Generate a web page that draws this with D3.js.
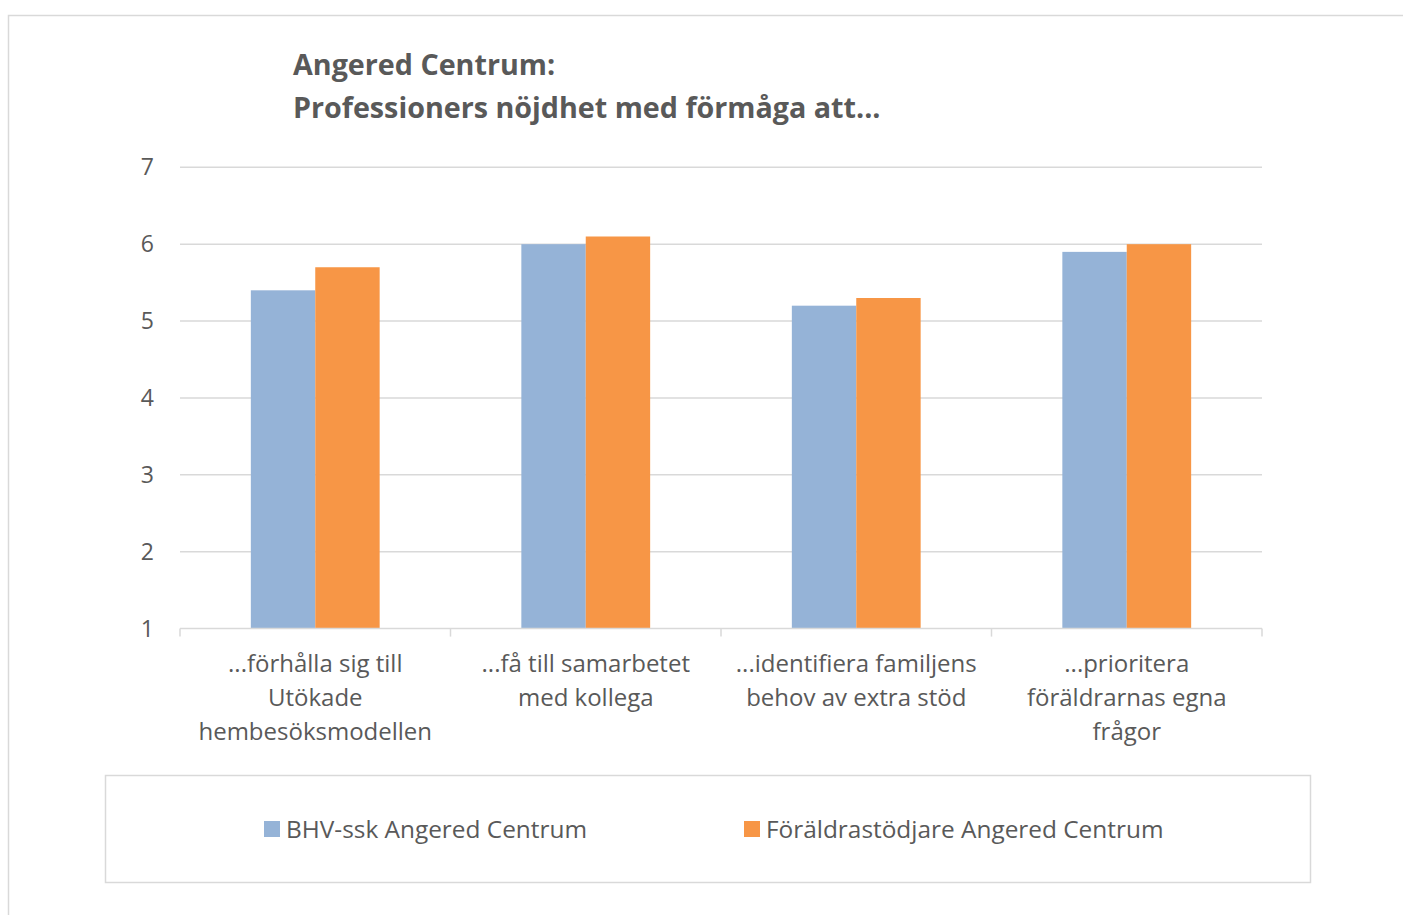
<!DOCTYPE html>
<html>
<head>
<meta charset="utf-8">
<script src="https://cdn.jsdelivr.net/npm/d3@7"></script>
<style>
  html, body { margin: 0; padding: 0; background: #ffffff; }
  svg { display: block; }
  text { font-family: "Open Sans", "DejaVu Sans", sans-serif; fill: #595959; }
</style>
</head>
<body>
<svg id="chart" width="1403" height="915"></svg>
<script>
// ---- data ----
const titleLines = ["Angered Centrum:", "Professioners nöjdhet med förmåga att..."];
const categories = [
  "...förhålla sig till Utökade hembesöksmodellen",
  "...få till samarbetet med kollega",
  "...identifiera familjens behov av extra stöd",
  "...prioritera föräldrarnas egna frågor"
];
const categoryLabelLines = [
  ["...förhålla sig till", "Utökade", "hembesöksmodellen"],
  ["...få till samarbetet", "med kollega"],
  ["...identifiera familjens", "behov av extra stöd"],
  ["...prioritera", "föräldrarnas egna", "frågor"]
];
const seriesNames = ["BHV-ssk Angered Centrum", "Föräldrastödjare Angered Centrum"];
const bhvValues = [5.4, 6.0, 5.2, 5.9];
const foraldrarValues = [5.7, 6.1, 5.3, 6.0];
const yTicks = [1, 2, 3, 4, 5, 6, 7];
const seriesColors = ["#95b3d7", "#f79646"];

// ---- drawing ----
const svg = d3.select("#chart");
const grid = "#d9d9d9";

// outer chart-area border (extends past right/bottom edges)
svg.append("rect")
  .attr("x", 8.5).attr("y", 15.5)
  .attr("width", 1420).attr("height", 930)
  .attr("fill", "#fff").attr("stroke", grid).attr("stroke-width", 1.5);

const plot = { left: 180, right: 1262, top: 167.3, bottom: 628.6 };

const y = d3.scaleLinear().domain([1, 7]).range([plot.bottom, plot.top]);
const x0 = d3.scaleBand().domain(categories).range([plot.left, plot.right]).paddingInner(0).paddingOuter(0);
const x1 = d3.scaleBand().domain(seriesNames).range([0, x0.bandwidth()]).paddingInner(0).paddingOuter(1.1);

// gridlines
svg.append("g").selectAll("line")
  .data(yTicks.filter(t => t > 1))
  .join("line")
  .attr("x1", plot.left).attr("x2", plot.right)
  .attr("y1", d => y(d)).attr("y2", d => y(d))
  .attr("stroke", grid).attr("stroke-width", 1.5);

// bars
const rows = categories.map((c, i) => ({ cat: c, vals: [bhvValues[i], foraldrarValues[i]] }));
const groups = svg.append("g").selectAll("g")
  .data(rows).join("g")
  .attr("transform", d => `translate(${x0(d.cat)},0)`);
groups.selectAll("rect")
  .data(d => d.vals.map((v, j) => ({ name: seriesNames[j], v, j })))
  .join("rect")
  .attr("x", d => x1(d.name))
  .attr("width", x1.bandwidth())
  .attr("y", d => y(d.v))
  .attr("height", d => y(1) - y(d.v))
  .attr("fill", d => seriesColors[d.j]);

// x axis line + ticks
const xAxis = svg.append("g");
xAxis.append("line")
  .attr("x1", plot.left).attr("x2", plot.right)
  .attr("y1", y(1)).attr("y2", y(1))
  .attr("stroke", grid).attr("stroke-width", 1.5);
const boundaries = categories.map(c => x0(c)).concat([x0(categories[categories.length - 1]) + x0.bandwidth()]);
xAxis.selectAll("line.tick")
  .data(boundaries).join("line").attr("class", "tick")
  .attr("x1", d => d).attr("x2", d => d)
  .attr("y1", y(1)).attr("y2", y(1) + 8)
  .attr("stroke", grid).attr("stroke-width", 1.5);

// category labels
const catLabels = svg.append("g").selectAll("text")
  .data(categories).join("text")
  .attr("text-anchor", "middle")
  .attr("font-size", 24);
catLabels.each(function(c, i) {
  const t = d3.select(this);
  categoryLabelLines[i].forEach((ln, k) => {
    t.append("tspan")
      .attr("x", x0(c) + x0.bandwidth() / 2)
      .attr("y", y(1) + 35 + k * 34)
      .attr("dy", "0.35em")
      .text(ln);
  });
});

// y tick labels
svg.append("g").selectAll("text")
  .data(yTicks).join("text")
  .attr("x", 154).attr("y", d => y(d))
  .attr("dy", "0.35em")
  .attr("text-anchor", "end")
  .attr("font-size", 23)
  .text(d => d);

// title
svg.append("g").selectAll("text")
  .data(titleLines).join("text")
  .attr("x", 293).attr("y", (d, i) => 75 + i * 43)
  .attr("font-size", 28.7).attr("font-weight", "bold")
  .text(d => d);

// legend
svg.append("rect")
  .attr("x", 105.5).attr("y", 775.5).attr("width", 1205).attr("height", 107)
  .attr("fill", "none").attr("stroke", grid).attr("stroke-width", 1.5);
const legendX = [264, 744];
const leg = svg.append("g").selectAll("g")
  .data(seriesNames).join("g")
  .attr("transform", (d, i) => `translate(${legendX[i]},829)`);
leg.append("rect").attr("x", 0).attr("y", -8).attr("width", 16).attr("height", 16)
  .attr("fill", (d, i) => seriesColors[i]);
leg.append("text").attr("x", 22).attr("dy", "0.35em").attr("font-size", 24.4).text(d => d);
</script>
</body>
</html>
